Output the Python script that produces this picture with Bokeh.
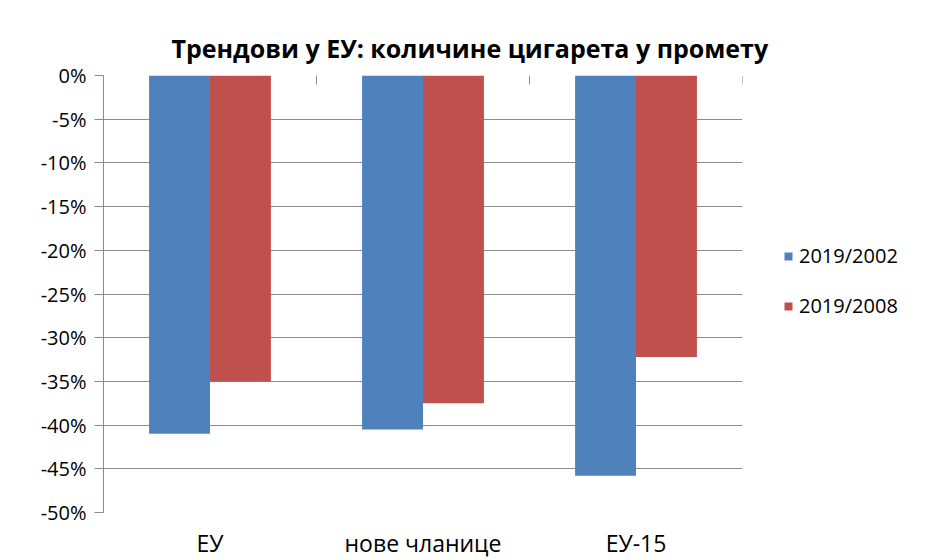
import numpy as np
from bokeh.plotting import figure
from bokeh.models import (ColumnDataSource, Range1d, FixedTicker, PrintfTickFormatter,
                          CustomJSTickFormatter, LinearAxis, Legend, LegendItem, Title, Grid)
from bokeh.transform import dodge
from bokeh.embed import file_html
from bokeh.resources import INLINE

categories = ["ЕУ", "нове чланице", "ЕУ-15"]
series_names = ["2019/2002", "2019/2008"]
values_2002 = [-41.0, -40.5, -45.8]
values_2008 = [-35.0, -37.5, -32.2]
y_ticks = [0, -5, -10, -15, -20, -25, -30, -35, -40, -45, -50]
colors = ["#4F81BD", "#C0504D"]
title_text = "Трендови у ЕУ: количине цигарета у промету"

FONT = "Open Sans"
GRID = "#8c8c8c"
n = len(categories)
src = ColumnDataSource(dict(x=np.arange(n) + 0.5, s1=values_2002, s2=values_2008,
                            zero=[0] * n))
bounds = ColumnDataSource(dict(x=np.arange(n + 1), y=[0] * (n + 1)))

p = figure(frame_width=639, frame_height=437, output_backend="svg", toolbar_location=None,
           x_range=Range1d(0, n), y_range=Range1d(-50, 0),
           min_border_left=103, min_border_right=185, min_border_top=75, min_border_bottom=40,
           x_axis_type=None, y_axis_type=None)
p.background_fill_color = "white"
p.border_fill_color = "white"
p.outline_line_color = None

# grid
g = Grid(dimension=1, ticker=FixedTicker(ticks=y_ticks), grid_line_color=GRID, grid_line_width=1)
p.add_layout(g)

bw = 0.286
r1 = p.vbar(x=dodge("x", -bw / 2, range=p.x_range), width=bw, top="zero", bottom="s1",
            source=src, fill_color=colors[0], line_color=None)
r2 = p.vbar(x=dodge("x", bw / 2, range=p.x_range), width=bw, top="zero", bottom="s2",
            source=src, fill_color=colors[1], line_color=None)

# category boundary ticks hanging from the zero line
p.ray(x="x", y="y", length=9, length_units="screen", angle=-np.pi / 2,
      source=bounds, line_color=GRID, line_width=1)

# y axis
yax = LinearAxis(ticker=FixedTicker(ticks=y_ticks), formatter=PrintfTickFormatter(format="%d%%"))
yax.axis_line_color = GRID
yax.major_tick_line_color = GRID
yax.major_tick_out = 9
yax.major_tick_in = 0
yax.minor_tick_line_color = None
yax.major_label_standoff = 8
yax.major_label_text_font = FONT
yax.major_label_text_font_size = "20px"
yax.major_label_text_color = "#000000"
p.add_layout(yax, "left")

# category labels below
xax = LinearAxis(ticker=FixedTicker(ticks=list(np.arange(n) + 0.5)),
                 formatter=CustomJSTickFormatter(args=dict(cats=categories),
                                                 code="return cats[Math.floor(tick)]"))
xax.axis_line_color = None
xax.major_tick_line_color = None
xax.minor_tick_line_color = None
xax.major_tick_out = 0
xax.major_tick_in = 0
xax.major_label_standoff = 14
xax.major_label_text_font = FONT
xax.major_label_text_font_size = "23px"
xax.major_label_text_color = "#000000"
p.add_layout(xax, "below")

p.title = Title(text=title_text, align="left", offset=68, text_font=FONT,
                text_font_size="25px", text_font_style="bold", text_color="#000000",
                standoff=22)

legend = Legend(items=[LegendItem(label=series_names[0], renderers=[r1]),
                       LegendItem(label=series_names[1], renderers=[r2])],
                location=(41, 193))
legend.border_line_color = None
legend.background_fill_alpha = 0
legend.padding = 0
legend.margin = 0
legend.glyph_width = 10
legend.glyph_height = 10
legend.label_standoff = 6
legend.label_height = 24
legend.spacing = 23
legend.label_text_font = FONT
legend.label_text_font_size = "20px"
legend.label_text_color = "#000000"
p.add_layout(legend, "right")

open("out.html", "w").write(file_html(p, INLINE))
